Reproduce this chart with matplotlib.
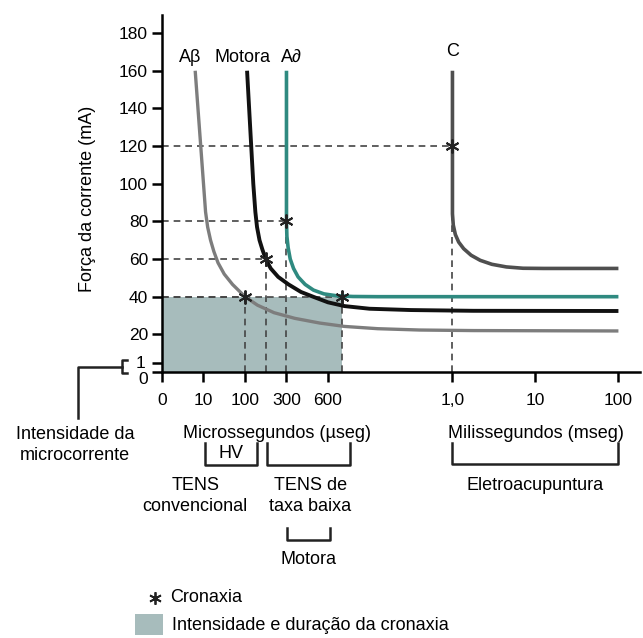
import matplotlib
matplotlib.use('Agg')
import matplotlib.pyplot as plt
from matplotlib.transforms import blended_transform_factory, ScaledTranslation
from matplotlib.patches import Rectangle
from matplotlib.lines import Line2D

plt.rcParams['font.family'] = ['Liberation Sans', 'DejaVu Sans']
plt.rcParams['font.size'] = 13

# eixo x em posicoes: 0..4 microssegundos, 7..11 milissegundos
tick_pos = [0, 1, 2, 3, 4, 7, 9, 11]
tick_labels = ['0', '10', '100', '300', '600', '1,0', '10', '100']

# curvas de intensidade-duracao (posicao no eixo, mA)
ab_x = [0.80, 1.0, 1.05, 1.1, 1.17, 1.25, 1.35, 1.5, 1.7, 2.0, 2.3, 2.7,
        3.2, 3.8, 4.4, 5.2, 6.2, 7.5, 11]
ab_y = [160, 100, 85, 77, 70, 64, 58, 52, 46.5, 40, 35.5, 31.5,
        28.5, 26, 24.2, 23, 22.3, 22, 21.8]

mot_x = [2.05, 2.2, 2.25, 2.29, 2.35, 2.42, 2.5, 2.62, 2.8, 3.05, 3.35,
         3.64, 4.0, 4.4, 5.0, 6.0, 7.5, 11]
mot_y = [160, 100, 85, 77, 70, 65, 60, 55, 50.5, 46.5, 42.5,
         40, 37, 35, 33.6, 32.9, 32.5, 32.4]

ad_x = [3, 3, 3.01, 3.04, 3.09, 3.17, 3.28, 3.45, 3.65, 3.9, 4.2, 4.6, 5.2, 11]
ad_y = [160, 80, 72, 66, 60, 55, 50.5, 46.5, 43.5, 41.5, 40.5, 40.1, 40, 40]

c_x = [7, 7, 7.02, 7.07, 7.15, 7.27, 7.45, 7.67, 7.95, 8.3, 8.7, 9.2, 11]
c_y = [160, 84, 78, 73, 69, 65.5, 62, 59.3, 57.2, 55.8, 55.1, 55, 55]

# cronaxias
cron_x = [2, 2.5, 3, 4.34, 7]
cron_y = [40, 60, 80, 40, 120]

W, H = 643, 638
fig = plt.figure(figsize=(W / 100, H / 100), dpi=100)
ax = fig.add_axes([162 / W, (H - 372) / H, (640 - 162) / W, (372 - 15) / H])
ax.set_xlim(0, 11.52)
ax.set_ylim(0, 189.6)

# area da cronaxia
ax.add_patch(Rectangle((0, 0), cron_x[3], cron_y[3], facecolor='#a7bcbc',
                       edgecolor='none', zorder=1))

# linhas tracejadas ate as cronaxias
dash = dict(color='#444444', lw=1.2, dashes=(4, 3), zorder=2)
for cx, cy in zip(cron_x, cron_y):
    ax.plot([0, cx], [cy, cy], **dash)
    ax.plot([cx, cx], [0, cy], **dash)

curva = dict(zorder=3, solid_capstyle='butt', solid_joinstyle='round')
ax.plot(ab_x, ab_y, color='#7d7d7d', lw=2.4, **curva)
ax.plot(mot_x, mot_y, color='#111111', lw=2.8, **curva)
ax.plot(ad_x, ad_y, color='#2f8a80', lw=2.6, **curva)
ax.plot(c_x, c_y, color='#4f4f4f', lw=2.6, **curva)

ax.plot(cron_x, cron_y, ls='none', marker=(6, 2, 0), ms=10, mew=1.4,
        color='#222222', zorder=4)

ax.text(0.67, 167, 'Aβ', ha='center', va='center')
ax.text(1.95, 167, 'Motora', ha='center', va='center')
ax.text(3.13, 167, 'A∂', ha='center', va='center')
ax.text(7.0, 170, 'C', ha='center', va='center')

for s in ['top', 'right']:
    ax.spines[s].set_visible(False)
for s in ['left', 'bottom']:
    ax.spines[s].set_linewidth(1.8)

ax.set_xticks(tick_pos)
ax.set_xticklabels(tick_labels)
ax.set_yticks([0, 4.8] + list(range(20, 181, 20)))
ax.set_yticklabels(['0', '1'] + [str(v) for v in range(20, 181, 20)])
ax.tick_params(direction='out', length=7, width=1.8, labelsize=12.5)
ax.tick_params(axis='x', pad=8)
ax.tick_params(axis='y', pad=3)
ylab = ax.get_yticklabels()
ylab[0].set_transform(ylab[0].get_transform() + ScaledTranslation(0, -4 / 72, fig.dpi_scale_trans))
ylab[1].set_transform(ylab[1].get_transform() + ScaledTranslation(-2 / 72, 1 / 72, fig.dpi_scale_trans))

fig.text(88 / W, 1 - 199 / H, 'Força da corrente (mA)', rotation=90,
         ha='center', va='center')

# textos e chaves abaixo do eixo x
tb = blended_transform_factory(ax.transData, fig.transFigure)


def fy(py):
    return 1 - py / H


def chave(x0, x1, y0, y1):
    fig.add_artist(Line2D([x0, x0, x1, x1], [fy(y0), fy(y1), fy(y1), fy(y0)],
                          transform=tb, color='#222222', lw=1.8))


fig.text(2.77, fy(433), 'Microssegundos (µseg)', transform=tb, ha='center', va='center')
fig.text(9.0, fy(433), 'Milissegundos (mseg)', transform=tb, ha='center', va='center')
chave(1.04, 2.29, 443, 465)
fig.text(1.66, fy(454), 'HV', transform=tb, ha='center', va='center')
chave(2.53, 4.53, 443, 465)
chave(7.0, 11.0, 443, 464)
fig.text(0.8, fy(496), 'TENS\nconvencional', transform=tb, ha='center', va='center',
         linespacing=1.3)
fig.text(3.57, fy(496), 'TENS de\ntaxa baixa', transform=tb, ha='center', va='center',
         linespacing=1.3)
fig.text(9.0, fy(486), 'Eletroacupuntura', transform=tb, ha='center', va='center')
chave(3.01, 4.05, 528, 540)
fig.text(3.52, fy(560), 'Motora', transform=tb, ha='center', va='center')

# microcorrente
fig.add_artist(Line2D([78 / W, 78 / W, 122 / W], [fy(418), fy(367), fy(367)],
                      color='#222222', lw=1.8))
fig.add_artist(Line2D([127 / W, 122 / W, 122 / W, 127 / W],
                      [fy(360), fy(360), fy(373), fy(373)], color='#222222', lw=1.8))
fig.text(75 / W, fy(445), 'Intensidade da\nmicrocorrente', ha='center', va='center',
         linespacing=1.3)

# legenda
fig.add_artist(Line2D([155 / W], [fy(598)], ls='none', marker=(6, 2, 0), ms=9,
                      mew=1.3, color='#222222'))
fig.text(170 / W, fy(598), 'Cronaxia', ha='left', va='center')
fig.add_artist(Rectangle((135 / W, fy(635)), 28 / W, 21 / H, facecolor='#a7bcbc',
                         edgecolor='none', transform=fig.transFigure))
fig.text(172 / W, fy(626), 'Intensidade e duração da cronaxia', ha='left', va='center')

fig.savefig('out.png', dpi=100)
